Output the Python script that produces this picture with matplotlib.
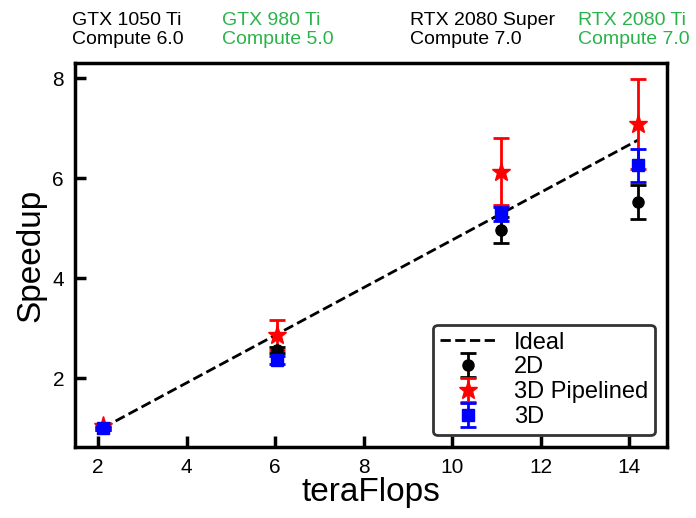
import matplotlib
matplotlib.use("Agg")
from matplotlib import pyplot as plt
import numpy as np

plt.rcParams['font.family'] = ['Liberation Sans', 'DejaVu Sans']

# data
tflops = [2.1, 6.05, 11.1, 14.2]
ideal = [t / 2.1 for t in tflops]

speed_2d = [1.0, 2.56, 4.96, 5.52]
err_2d = [0.03, 0.06, 0.26, 0.34]

speed_3dp = [1.04, 2.87, 6.13, 7.08]
err_3dp = [0.04, 0.3, 0.67, 0.9]

speed_3d = [1.0, 2.37, 5.28, 6.26]
err_3d = [0.03, 0.08, 0.14, 0.33]

gpu_names = ["GTX 1050 Ti\nCompute 6.0", "GTX 980 Ti\nCompute 5.0",
             "RTX 2080 Super\nCompute 7.0", "RTX 2080 Ti\nCompute 7.0"]
gpu_colors = ["black", "#2bb34b", "black", "#2bb34b"]
gpu_xpos = [72, 222, 410, 578]

fig = plt.figure(figsize=(6.96, 5.18), dpi=100)
ax = fig.add_axes([0.108, 0.137, 0.85, 0.741])

ax.plot(tflops, ideal, "k--", lw=2, label="Ideal", zorder=1)
ax.errorbar(tflops, speed_2d, yerr=err_2d, fmt="o", color="black", ms=8,
            capsize=6, elinewidth=2, capthick=2, label="2D")
ax.errorbar(tflops, speed_3dp, yerr=err_3dp, fmt="*", color="red", ms=14,
            capsize=6, elinewidth=2, capthick=2, label="3D Pipelined")
ax.errorbar(tflops, speed_3d, yerr=err_3d, fmt="s", color="blue", ms=8,
            capsize=6, elinewidth=2, capthick=2, label="3D")

ax.set_xlim(1.48, 14.85)
ax.set_ylim(0.62, 8.3)
ax.set_xticks([2, 4, 6, 8, 10, 12, 14])
ax.set_yticks([2, 4, 6, 8])
ax.tick_params(direction="in", length=8, width=2.5, labelsize=15, pad=8)
for s in ax.spines.values():
    s.set_linewidth(2.5)

ax.set_xlabel("teraFlops", fontsize=24, labelpad=0)
ax.set_ylabel("Speedup", fontsize=24, labelpad=4)

leg = ax.legend(loc="lower right", fontsize=17, frameon=True, fancybox=True,
                edgecolor="#333333", handlelength=2.3, borderpad=0.3,
                labelspacing=0.12, handletextpad=0.8,
                bbox_to_anchor=(1.0, 0.0), borderaxespad=0.5)
leg.get_frame().set_linewidth(2)
leg.get_frame().set_alpha(1)

for name, col, xp in zip(gpu_names, gpu_colors, gpu_xpos):
    fig.text(xp / 696, 1 - 12 / 518, name, color=col, fontsize=14,
             ha="left", va="top", linespacing=1.15)

fig.savefig("out.png", dpi=100)
